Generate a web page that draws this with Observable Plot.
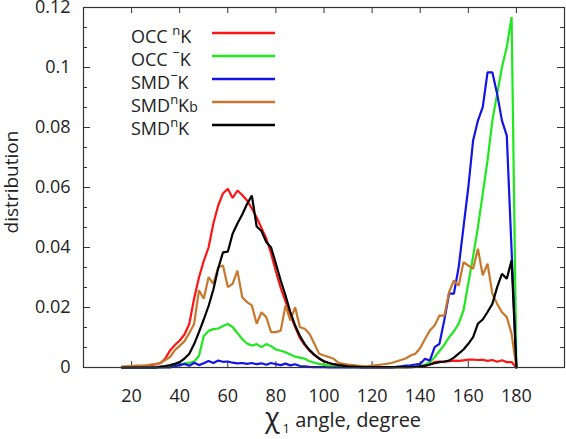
<!DOCTYPE html>
<html><head><meta charset="utf-8">
<script src="https://cdn.jsdelivr.net/npm/d3@7"></script>
<script src="https://cdn.jsdelivr.net/npm/@observablehq/plot@0.6"></script>
<style>html,body{margin:0;padding:0;background:#fff;} svg{display:block}</style>
</head><body><div id="chart"></div>
<script>
// chi1 angle bins (degrees)
const angles = [16,18,20,22,24,26,28,30,32,34,
  36,38,40,42,44,46,48,50,52,54,
  56,58,60,62,64,66,68,70,72,74,
  76,78,80,82,84,86,88,90,92,94,
  96,98,100,102,104,106,108,110,112,114,
  116,118,120,122,124,126,128,130,132,134,
  136,138,140,142,144,146,148,150,152,154,
  156,158,160,162,164,166,168,170,172,174,
  176,178,180];

const occNK = [0,0.0002,0.0003,0.0004,0.0005,0.0006,0.0008,0.001,0.0015,0.003,
  0.0057,0.0075,0.009,0.011,0.0146,0.023,0.030,0.0355,0.040,0.048,
  0.054,0.058,0.0596,0.0565,0.059,0.0575,0.0557,0.053,0.050,0.0465,
  0.043,0.038,0.032,0.0265,0.022,0.0175,0.0135,0.0098,0.0075,0.0056,
  0.0042,0.003,0.002,0.0015,0.0011,0.0009,0.0006,0.0004,0.0003,0.0002,
  0.0001,0.0001,0.0001,0.0001,0.0001,0.0001,0.0001,0.0001,0.0001,0.0001,
  0.0002,0.0002,0.0003,0.0005,0.001,0.0018,0.002,0.0019,0.0021,0.0023,
  0.0022,0.0024,0.0026,0.0026,0.0025,0.0026,0.0022,0.0025,0.0019,0.0024,
  0.0018,0.0018,0];

const occMK = [0,0,0,0,0,0,0,0,0,0.0002,
  0.0005,0.0008,0.001,0.0013,0.0016,0.002,0.0038,0.0105,0.0122,0.0128,
  0.013,0.0138,0.0145,0.0135,0.0115,0.0095,0.008,0.0073,0.0078,0.0068,
  0.0078,0.0071,0.006,0.0056,0.0051,0.0043,0.0036,0.0033,0.0029,0.0021,
  0.0016,0.0012,0.0009,0.0006,0.0004,0.0003,0.0002,0.0001,0.0001,0.0001,
  0.0001,0.0001,0.0001,0.0001,0.0001,0.0001,0.0001,0.0001,0.0001,0.0001,
  0.0001,0.0002,0.0004,0.0009,0.0018,0.0034,0.0055,0.0075,0.0101,0.012,
  0.0146,0.019,0.028,0.037,0.0468,0.0579,0.069,0.0823,0.0912,0.1001,
  0.1068,0.1168,0];

const smdMK = [0,0,0,0,0,0,0,0,0,0,
  0,0.0004,0.0008,0.0012,0.0006,0.0016,0.0008,0.0014,0.0022,0.0015,
  0.0023,0.0019,0.002,0.0016,0.0014,0.0015,0.0012,0.0015,0.0011,0.0014,
  0.0009,0.0015,0.0011,0.0008,0.0013,0.0007,0.0011,0.0005,0.0004,0.0002,
  0.0001,0.0001,0.0001,0,0,0,0,0,0,0,
  0,0,0,0,0,0,0,0.0002,0.0004,0.0006,
  0.0007,0.001,0.0012,0.0029,0.0023,0.0068,0.0079,0.0157,0.0246,0.0246,
  0.0334,0.0468,0.06,0.0757,0.0823,0.0868,0.0984,0.0984,0.0912,0.0823,
  0.0773,0.039,0];

const smdNKb = [0.0003,0.0004,0.0005,0.0006,0.0006,0.0007,0.001,0.0012,0.0015,0.0025,
  0.0035,0.0058,0.0072,0.0088,0.0115,0.0145,0.0257,0.0229,0.0301,0.0279,
  0.0334,0.034,0.0268,0.0279,0.0323,0.0234,0.0218,0.0207,0.0146,0.0184,
  0.0168,0.0118,0.0118,0.0123,0.0207,0.0157,0.0201,0.0134,0.0129,0.0112,
  0.0079,0.0046,0.004,0.0035,0.0029,0.0016,0.0012,0.001,0.0008,0.0006,
  0.0005,0.0004,0.0006,0.0008,0.001,0.0012,0.0015,0.002,0.0025,0.003,
  0.004,0.0046,0.0065,0.0095,0.0123,0.014,0.0173,0.0173,0.0251,0.029,
  0.0273,0.0351,0.034,0.0329,0.0396,0.0307,0.0346,0.0246,0.0212,0.0184,
  0.0168,0.0112,0];

const smdNK = [0,0,0,0,0,0,0,0,0.0003,0.0005,
  0.0008,0.0012,0.0018,0.003,0.0046,0.0078,0.0118,0.016,0.0205,0.026,
  0.033,0.0384,0.0386,0.0446,0.048,0.051,0.0545,0.0573,0.047,0.0455,
  0.0418,0.040,0.0346,0.029,0.024,0.0185,0.014,0.0105,0.0078,0.0058,
  0.0042,0.003,0.0021,0.0015,0.0011,0.0008,0.0006,0.0004,0.0003,0.0002,
  0.0001,0.0001,0.0001,0.0001,0.0001,0.0001,0.0001,0.0001,0.0001,0.0001,
  0.0001,0.0002,0.0004,0.0006,0.001,0.0014,0.0018,0.002,0.0023,0.0033,
  0.0046,0.006,0.0079,0.0101,0.0146,0.016,0.0185,0.0212,0.0268,0.0312,
  0.0296,0.0357,0];

const xTicks = [20,40,60,80,100,120,140,160,180];
const yMajor = [0,0.02,0.04,0.06,0.08,0.1,0.12];

const seriesNames = ["OCCnK","OCC-K","SMD-K","SMDnKb","SMDnK"];
const seriesValues = [occNK, occMK, smdMK, smdNKb, smdNK];
const seriesColors = ["#ff1414","#1ee81e","#1414e6","#c8782c","#000000"];
// legend labels as [text, kind] parts: "" normal, "sup" superscript, "small" small baseline
const legendParts = [
  [["OCC ",""],["n","sup"],["K",""]],
  [["OCC ",""],["\u2212","supm"],["K",""]],
  [["SMD",""],["\u2212","supm"],["K",""]],
  [["SMD",""],["n","sup"],["K",""],["b","small"]],
  [["SMD",""],["n","sup"],["K",""]]
];

const W = 566, H = 439, mL = 83, mR = 2, mT = 7, mB = 72;
const fw = W - mL - mR, fh = H - mT - mB;
const yMinor = yMajor.slice(0, -1).flatMap(v => [v + 0.02 / 3, v + 0.04 / 3]);

const lineMarks = seriesValues.map((vals, k) =>
  Plot.line(angles.map((a, i) => ({angle: a, value: vals[i]})), {
    x: "angle", y: "value", stroke: seriesColors[k], strokeWidth: 2.2, strokeLinejoin: "miter"
  })
);

const tc = "#333";
const plot = Plot.plot({
  width: W, height: H,
  marginLeft: mL, marginRight: mR, marginTop: mT, marginBottom: mB,
  x: {domain: [0, 200]},
  y: {domain: [0, 0.12]},
  style: {fontFamily: "'Open Sans', sans-serif", fontSize: "18px", color: "#222", background: "#fff"},
  marks: [
    Plot.tickY(yMajor, {y: d => d, insetRight: fw - 7, stroke: tc}),
    Plot.tickY(yMinor, {y: d => d, insetRight: fw - 4, stroke: tc}),
    Plot.tickY(yMajor, {y: d => d, insetLeft: fw - 7, stroke: tc}),
    Plot.tickY(yMinor, {y: d => d, insetLeft: fw - 4, stroke: tc}),
    Plot.tickX(xTicks, {x: d => d, insetTop: fh - 6, stroke: tc}),
    Plot.tickX(xTicks, {x: d => d, insetBottom: fh - 6, stroke: tc}),
    Plot.axisY({ticks: yMajor, tickSize: 0, tickPadding: 13, tickFormat: d => String(d), label: null, fontSize: 18}),
    Plot.axisX({ticks: xTicks, tickSize: 0, tickPadding: 22, tickFormat: d => String(d), label: null, fontSize: 18}),
    ...lineMarks,
    Plot.frame({stroke: tc, strokeWidth: 1.2})
  ]
});

const svg = d3.select(plot);
// legend
const lg = svg.append("g").attr("fill", "#222").attr("text-anchor", "start")
  .attr("font-family", "'Open Sans', sans-serif");
legendParts.forEach((parts, i) => {
  const yb = 43 + i * 23;
  const t = lg.append("text").attr("x", 131).attr("y", yb).attr("font-size", 18).attr("text-anchor", "start");
  let shift = 0;
  parts.forEach(([s, kind]) => {
    let ns = 0, size = 18;
    if (kind === "sup") { ns = 8; size = 13; }
    if (kind === "supm") { ns = 9; size = 13; }
    if (kind === "small") { ns = 0; size = 14; }
    t.append("tspan").attr("dy", shift - ns).attr("font-size", size).text(s);
    shift = ns;
  });
  lg.append("line").attr("x1", 212).attr("x2", 275).attr("y1", yb - 10).attr("y2", yb - 10)
    .attr("stroke", seriesColors[i]).attr("stroke-width", 2.5);
});
// x title
const xt = svg.append("text").attr("x", 343).attr("y", 427).attr("text-anchor", "middle")
  .attr("fill", "#222").attr("font-family", "'Open Sans', sans-serif");
xt.append("tspan").attr("font-size", 27).text("\u03C7");
xt.append("tspan").attr("font-size", 13).attr("dy", 6).attr("dx", 3).text("1");
xt.append("tspan").attr("font-size", 20).attr("dy", -6).text(" angle, degree");
// y title
svg.append("text").attr("transform", "translate(18,182) rotate(-90)").attr("text-anchor", "middle")
  .attr("fill", "#222").attr("font-family", "'Open Sans', sans-serif").attr("font-size", 19).text("distribution");

document.getElementById("chart").appendChild(plot);
</script></body></html>
